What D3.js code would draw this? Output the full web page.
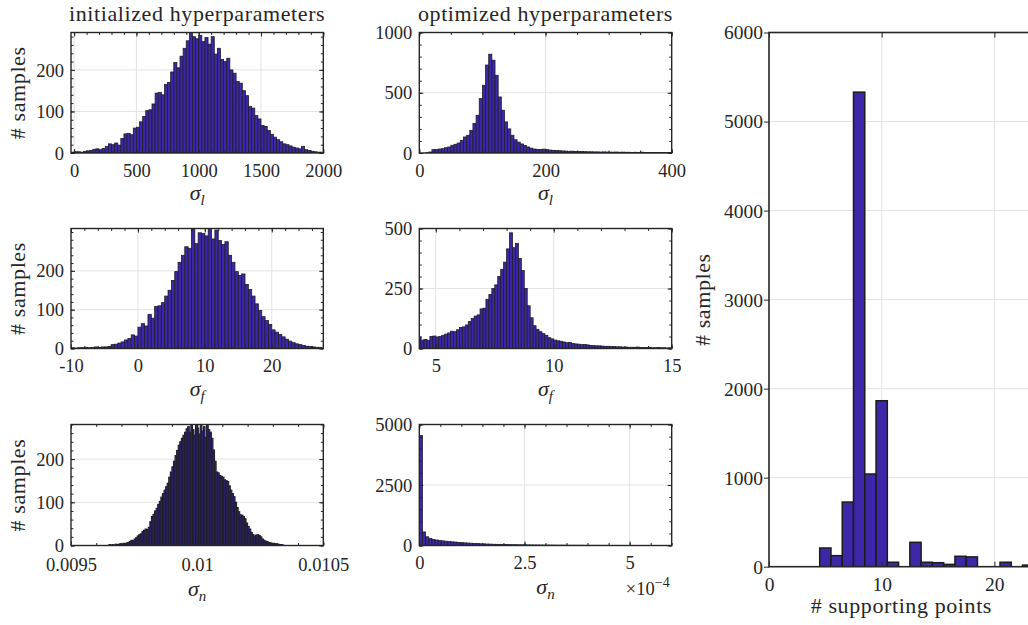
<!DOCTYPE html>
<html><head><meta charset="utf-8">
<script src="https://cdn.jsdelivr.net/npm/d3@7"></script>
<style>
body{margin:0;background:#fff}
svg text{fill:#262626}
</style>
</head><body>
<svg id="c" width="1028" height="625" font-family="'Liberation Serif', 'DejaVu Serif', 'Times New Roman', Times, serif"></svg>
<script>
// ---------------- DATA ----------------
// initialized sigma_l : bins start -25, width 25
const initLStart = -25, initLWidth = 25;
const initLCounts = [2,3,3,2,4, 5,6,9,10, 8,11,16,22, 20,24,19,35, 46,47,44,60, 62,75,88,102,
  104,118,144,146, 140,165,170,195, 218,205,233,252, 270,290,280,275, 283,268,278,262,
  280,238,252,225, 220,228,200,192, 172,168,150,138, 112,108,90,82, 66,64,54,45,
  38,32,27,22, 20,17,14,12, 10,16,8,6, 4,3,2,2];
const initLTicks = [0,500,1000,1500,2000];
const initLTickLabels = ["0","500","1000","1500","2000"];

// optimized sigma_l : bins start 0, width 5
const optLStart = 0, optLWidth = 5;
const optLCounts = [0,0,2,8,28,30,33,36,44,50, 64,72,83,105,133,147,188,244,313,451,
  562,730,820,770,645,465,355,258,200,147, 110,90,75,62,50,40,33,30,28,32,
  28,24,22,20,19,17,16,14,15,13, 12,12,11,10,10,9,9,8,9,8,
  7,7,8,6,7,6,6,5,6,5, 7,5,5,4,5,4,4,4,3,4];
const optLTicks = [0,200,400];
const optLTickLabels = ["0","200","400"];

// initialized sigma_f : bins start -10, width 0.5
const initFStart = -10, initFWidth = 0.5;
const initFCounts = [2,1,2,2,3,2,3,4,3,4,4,5, 10,11,14,17,22,26,35,32,
  55,64,58,88,78,108,110,118,135,150, 175,198,222,240,262,258,309,270,298,296,
  290,309,282,305,278,268,275,240,222,198, 188,192,165,152,135,115,98,82,72,62,
  48,42,36,30,24,19,15,12,10,8, 6,5,4,3,3];
const initFTicks = [-10,0,10,20];
const initFTickLabels = ["-10","0","10","20"];

// optimized sigma_f : bins start 4.25, width 0.125
const optFStart = 4.25, optFWidth = 0.125;
const optFCounts = [48,35,38,34,50,52,48,50,55,60, 65,72,70,78,88,90,98,112,125,135,
  140,165,168,205,225,250,265,300,330,360, 415,482,420,438,375,325,250,178,128,95,
  80,70,62,55,45,40,35,32,30,27, 24,25,21,19,18,16,17,15,13,12,
  11,11,10,9,9,8,8,7,7,6, 6,5,5,5,6,4,4,4,5,3, 3,4,3,3,2,3];
const optFTicks = [5,10,15];
const optFTickLabels = ["5","10","15"];

// initialized sigma_n : bins start 0.00965, width 6.25e-6
const initNStart = 0.00965, initNWidth = 6.25e-6;
const initNCounts = [2,1,2,1,3,2,3,4,3,5, 4,6,7,9,12,11,15,18,22,25,
  27,32,35,38,37,42,55,67,72,80, 86,95,102,112,120,128,136,144,158,170,
  182,195,208,220,232,240,248,255,262,270, 275,262,280,268,255,278,272,258,280,265,
  275,250,278,268,262,248,221,195,170,168, 162,160,158,152,150,148,138,128,120,113,
  100,88,78,71,70,67,62,52,44,38, 30,25,22,24,25,23,20,15,12,10,
  9,7,6,5,5,4,4,3,2,2, 1];
const initNTicks = [0.0095,0.01,0.0105];
const initNTickLabels = ["0.0095","0.01","0.0105"];

// optimized sigma_n : bins start 0, width 7.5e-6
const optNStart = 0, optNWidth = 7.5e-6;
const optNCounts = [4550,560,360,290,252,226,204,192,176,163, 150,141,127,119,108,101,93,84,79,71,
  67,60,57,51,48,46,41,39,37,33, 32,29,28,27,24,23,22,20,19,18,
  17,16,15,14,13,13,12,11,10,10, 9,9,8,8,7,7,7,6,6,6,
  5,5,5,4,4,4,4,3,3,3, 3,2,2,2,2,2,2,1,1,1];
const optNTicks = [0,2.5e-4,5e-4];
const optNTickLabels = ["0","2.5","5"];

// supporting points
const supportPoints = [1,2,3,4,5,6,7,8,9,10,11,12,13,14,15,16,17,18,19,20,21,22,23];
const supportCounts = [0,0,0,0,210,124,726,5330,1041,1864,50,0,274,50,45,26,117,110,0,0,50,0,18];
const supportXTicks = [0,10,20];
const supportYTicks = [0,1000,2000,3000,4000,5000,6000];

const countTicks100 = [0,100,200];
const countTicks500 = [0,500,1000];
const countTicks250 = [0,250,500];
const countTicks2500 = [0,2500,5000];

// ---------------- DRAWING ----------------
const FONT = "'Liberation Serif', 'DejaVu Serif', 'Times New Roman', Times, serif";
const svg = d3.select("#c");
const ink = "#262626", gridColor = "#e3e3e3", barFill = "#3e26a8";
const tickFont = 18.5, labelFont = 22;

function makeBins(start, width, counts) {
  return counts.map((n, i) => ({x0: start + i*width, x1: start + (i+1)*width, n}));
}

let clipN = 0;
function drawPanel(p) {
  const g = svg.append("g");
  const x = d3.scaleLinear().domain(p.xDomain).range([p.left, p.right]);
  const y = d3.scaleLinear().domain(p.yDomain).range([p.bottom, p.top]);

  // grid
  g.append("g").selectAll("line").data(p.xTicks.filter(d => d > p.xDomain[0] && d < p.xDomain[1])).join("line")
    .attr("x1", d => x(d)).attr("x2", d => x(d)).attr("y1", p.top).attr("y2", p.bottom)
    .attr("stroke", gridColor).attr("stroke-width", 1);
  g.append("g").selectAll("line").data(p.yTicks.filter(d => d > p.yDomain[0] && d < p.yDomain[1])).join("line")
    .attr("y1", d => y(d)).attr("y2", d => y(d)).attr("x1", p.left).attr("x2", p.right)
    .attr("stroke", gridColor).attr("stroke-width", 1);

  // bars
  const id = "clip" + (clipN++);
  g.append("clipPath").attr("id", id).append("rect")
    .attr("x", p.left).attr("y", p.top - 1).attr("width", p.right - p.left).attr("height", p.bottom - p.top + 1);
  g.append("g").attr("clip-path", `url(#${id})`).selectAll("rect").data(p.bins).join("rect")
    .attr("x", d => x(d.x0)).attr("width", d => x(d.x1) - x(d.x0))
    .attr("y", d => y(d.n)).attr("height", d => y(0) - y(d.n))
    .attr("fill", barFill).attr("stroke", p.barStroke).attr("stroke-width", p.barStrokeWidth);

  const style = sel => sel.attr("font-family", FONT).attr("font-size", null).attr("color", ink)
      .call(s => s.select(".domain").remove())
      .call(s => s.selectAll("line").attr("stroke-width", 1));

  // bottom axis with labels (ticks inward)
  g.append("g").attr("transform", `translate(0,${p.bottom})`)
    .call(d3.axisBottom(x).tickValues(p.xTicks).tickSize(-p.tickLen).tickPadding(p.xPad)
      .tickFormat((d, i) => p.xLabels[i]))
    .call(style).selectAll("text").attr("font-size", p.tickFont).attr("font-family", FONT);
  // left axis
  g.append("g").attr("transform", `translate(${p.left},0)`)
    .call(d3.axisLeft(y).tickValues(p.yTicks).tickSize(p.yTickOut ? p.yTickOut : -p.tickLen).tickPadding(p.yPad)
      .tickFormat(d3.format("d")))
    .call(style).selectAll("text").attr("font-size", p.tickFont).attr("font-family", FONT).attr("dy", "0.33em");
  // top axis ticks
  g.append("g").attr("transform", `translate(0,${p.top})`)
    .call(d3.axisTop(x).tickValues(p.xTicks).tickSize(-p.tickLen).tickFormat(""))
    .call(style);
  if (p.rightTicks) {
    g.append("g").attr("transform", `translate(${p.right},0)`)
      .call(d3.axisRight(y).tickValues(p.yTicks).tickSize(-p.tickLen).tickFormat(""))
      .call(style);
  }
  // minor ticks
  if (p.xMinor) {
    const mt = d3.range(Math.ceil(p.xDomain[0] / p.xMinor) * p.xMinor, p.xDomain[1] + 1e-12, p.xMinor);
    g.append("g").attr("transform", `translate(0,${p.bottom})`)
      .call(d3.axisBottom(x).tickValues(mt).tickSize(-2.5).tickFormat("")).call(style);
    g.append("g").attr("transform", `translate(0,${p.top})`)
      .call(d3.axisTop(x).tickValues(mt).tickSize(-2.5).tickFormat("")).call(style);
  }
  if (p.yMinor) {
    const mt = d3.range(0, p.yDomain[1] + 1e-9, p.yMinor);
    g.append("g").attr("transform", `translate(${p.left},0)`)
      .call(d3.axisLeft(y).tickValues(mt).tickSize(-2.5).tickFormat("")).call(style);
    g.append("g").attr("transform", `translate(${p.right},0)`)
      .call(d3.axisRight(y).tickValues(mt).tickSize(-2.5).tickFormat("")).call(style);
  }
  // box
  g.append("rect").attr("x", p.left).attr("y", p.top)
    .attr("width", p.right - p.left).attr("height", p.bottom - p.top)
    .attr("fill", "none").attr("stroke", ink).attr("stroke-width", p.boxWidth);

  const cx = (p.left + p.right) / 2;
  const txt = () => g.append("text").attr("font-family", FONT);
  // x label
  if (p.sub) {
    const t = txt().attr("x", cx).attr("y", p.bottom + (p.subOffset || 47))
      .attr("text-anchor", "middle").attr("font-size", labelFont);
    t.append("tspan").attr("font-style", "italic").text("σ");
    t.append("tspan").attr("font-style", "italic").attr("font-size", 15).attr("dy", 5).text(p.sub);
  }
  if (p.xLabel) {
    txt().attr("x", cx).attr("y", p.bottom + 46).attr("text-anchor", "middle")
      .attr("font-size", labelFont).attr("letter-spacing", 0.6).text(p.xLabel);
  }
  if (p.yLabelX !== undefined) {
    txt().attr("transform", `translate(${p.yLabelX},${(p.top + p.bottom) / 2}) rotate(-90)`)
      .attr("text-anchor", "middle").attr("font-size", labelFont).attr("letter-spacing", 0.6).text("# samples");
  }
  if (p.title) {
    txt().attr("x", cx).attr("y", 21).attr("text-anchor", "middle")
      .attr("font-size", labelFont).attr("letter-spacing", 0.6).text(p.title);
  }
  if (p.exponent) {
    const e = txt().attr("x", p.right - 2).attr("y", p.bottom + 49)
      .attr("text-anchor", "end").attr("font-size", tickFont);
    e.append("tspan").text("×10");
    e.append("tspan").attr("font-size", 14).attr("dy", -8).text("−4");
  }
}

const col1 = {left: 71, right: 323.3}, col2 = {left: 419.3, right: 671.7};
const row1 = {top: 32.5, bottom: 153}, row2 = {top: 228.5, bottom: 348.5}, row3 = {top: 424.5, bottom: 545.5};
const small = {tickLen: 4, xPad: 10.5, yPad: 7, boxWidth: 1.4, barStroke: "#1e1e28", barStrokeWidth: 0.8,
  rightTicks: true, tickFont: tickFont};

drawPanel({...small, ...col1, ...row1, bins: makeBins(initLStart, initLWidth, initLCounts),
  xDomain: [-25, 2000], yDomain: [0, 290], xTicks: initLTicks, xLabels: initLTickLabels, yTicks: countTicks100,
  xMinor: 100, yMinor: 20, sub: "l", yLabelX: 25, title: "initialized hyperparameters"});
drawPanel({...small, ...col2, ...row1, bins: makeBins(optLStart, optLWidth, optLCounts),
  xDomain: [0, 400], yDomain: [0, 1000], xTicks: optLTicks, xLabels: optLTickLabels, yTicks: countTicks500,
  xMinor: 50, yMinor: 100, sub: "l", title: "optimized hyperparameters"});
drawPanel({...small, ...col1, ...row2, bins: makeBins(initFStart, initFWidth, initFCounts),
  xDomain: [-10, 27.7], yDomain: [0, 309], xTicks: initFTicks, xLabels: initFTickLabels, yTicks: countTicks100,
  xMinor: 2, yMinor: 20, sub: "f", yLabelX: 25});
drawPanel({...small, ...col2, ...row2, bins: makeBins(optFStart, optFWidth, optFCounts),
  xDomain: [4.3, 15], yDomain: [0, 500], xTicks: optFTicks, xLabels: optFTickLabels, yTicks: countTicks250,
  xMinor: 1, yMinor: 50, sub: "f"});
drawPanel({...small, ...col1, ...row3, xPad: 12.5, subOffset: 50, barStrokeWidth: 1.1, bins: makeBins(initNStart, initNWidth, initNCounts),
  xDomain: [0.0095, 0.0105], yDomain: [0, 280], xTicks: initNTicks, xLabels: initNTickLabels, yTicks: countTicks100,
  xMinor: 0.0001, yMinor: 20, sub: "n", yLabelX: 25});
drawPanel({...small, ...col2, ...row3, subOffset: 48, bins: makeBins(optNStart, optNWidth, optNCounts),
  xDomain: [0, 6e-4], yDomain: [0, 5000], xTicks: optNTicks, xLabels: optNTickLabels, yTicks: countTicks2500,
  xMinor: 0.5e-4, yMinor: 500, sub: "n", exponent: true});

drawPanel({tickLen: 5, xPad: 10, yPad: 1, yTickOut: 5, boxWidth: 1.6, barStroke: "#1c1c1c", barStrokeWidth: 1.5,
  rightTicks: false, tickFont: 19.5, left: 769, right: 1033.8, top: 32.5, bottom: 566.7,
  bins: supportPoints.map((v, i) => ({x0: v - 0.5, x1: v + 0.5, n: supportCounts[i]})),
  xDomain: [0, 23.5], yDomain: [0, 6000], xTicks: supportXTicks, xLabels: supportXTicks.map(String),
  yTicks: supportYTicks, xLabel: "# supporting points", yLabelX: 710});
</script>
</body></html>
